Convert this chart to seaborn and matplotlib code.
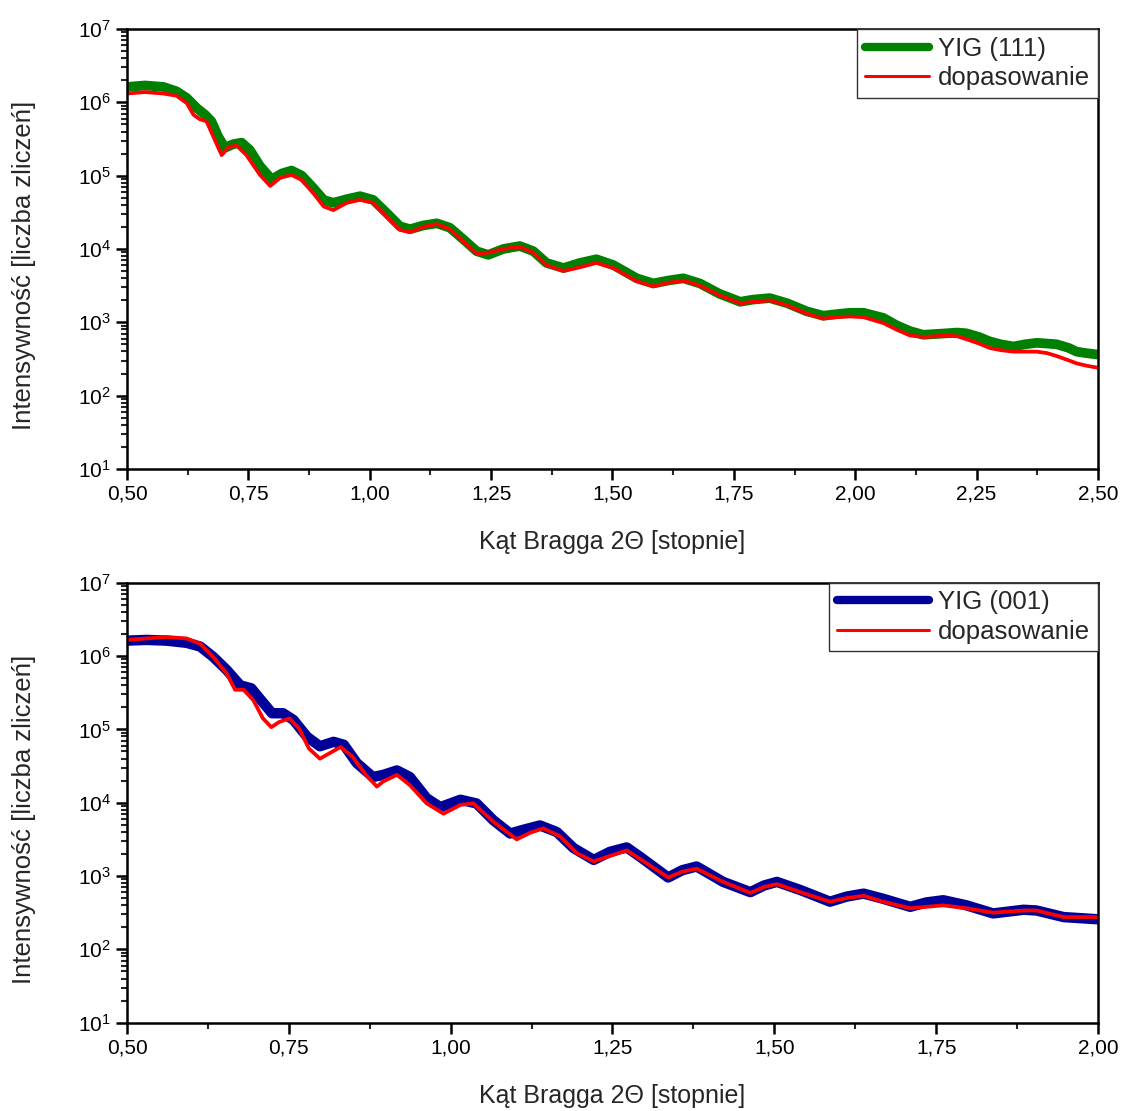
import numpy as np
import matplotlib
matplotlib.use('Agg')
import matplotlib.pyplot as plt
import matplotlib.ticker as mticker
import seaborn as sns

# YIG (111): pomiar - kat 2Theta i log10 intensywnosci
x111_meas = [0.500, 0.537, 0.575, 0.602, 0.623, 0.644, 0.661, 0.674, 0.688, 0.702,
             0.719, 0.736, 0.753, 0.774, 0.798, 0.819, 0.839, 0.860, 0.884, 0.905,
             0.925, 0.953, 0.980, 1.007, 1.035, 1.062, 1.083, 1.110, 1.138, 1.165,
             1.193, 1.220, 1.244, 1.275, 1.309, 1.337, 1.364, 1.399, 1.433, 1.467,
             1.502, 1.550, 1.584, 1.615, 1.646, 1.680, 1.720, 1.763, 1.790, 1.824,
             1.860, 1.900, 1.934, 1.960, 1.989, 2.017, 2.058, 2.085, 2.113, 2.140,
             2.165, 2.188, 2.210, 2.229, 2.255, 2.277, 2.300, 2.326, 2.350, 2.374,
             2.395, 2.415, 2.440, 2.456, 2.475, 2.500]
y111_meas = [6.21, 6.23, 6.21, 6.15, 6.06, 5.92, 5.83, 5.74, 5.53, 5.38,
             5.43, 5.45, 5.35, 5.13, 4.95, 5.03, 5.07, 5.00, 4.83, 4.67,
             4.63, 4.68, 4.72, 4.67, 4.49, 4.31, 4.27, 4.32, 4.35, 4.29,
             4.13, 3.97, 3.92, 4.00, 4.04, 3.97, 3.81, 3.74, 3.81, 3.86,
             3.78, 3.60, 3.53, 3.57, 3.60, 3.53, 3.39, 3.28, 3.31, 3.33,
             3.26, 3.15, 3.09, 3.11, 3.13, 3.13, 3.06, 2.96, 2.88, 2.83,
             2.84, 2.85, 2.86, 2.85, 2.80, 2.74, 2.70, 2.67, 2.70, 2.72,
             2.71, 2.70, 2.65, 2.60, 2.58, 2.56]

# YIG (111): dopasowanie
x111_fit = [0.500, 0.537, 0.575, 0.602, 0.623, 0.637, 0.650, 0.664, 0.678, 0.695,
            0.709, 0.726, 0.746, 0.774, 0.795, 0.815, 0.839, 0.860, 0.884, 0.905,
            0.925, 0.953, 0.980, 1.007, 1.035, 1.062, 1.083, 1.110, 1.138, 1.165,
            1.193, 1.220, 1.244, 1.275, 1.309, 1.337, 1.364, 1.399, 1.433, 1.467,
            1.502, 1.550, 1.584, 1.615, 1.646, 1.680, 1.720, 1.763, 1.790, 1.824,
            1.860, 1.900, 1.934, 1.960, 1.989, 2.017, 2.058, 2.085, 2.113, 2.140,
            2.165, 2.188, 2.210, 2.229, 2.255, 2.277, 2.300, 2.326, 2.350, 2.374,
            2.395, 2.415, 2.440, 2.456, 2.475, 2.500]
y111_fit = [6.12, 6.14, 6.12, 6.09, 5.99, 5.83, 5.77, 5.74, 5.53, 5.28,
            5.39, 5.41, 5.28, 5.01, 4.86, 4.97, 5.01, 4.94, 4.76, 4.58,
            4.53, 4.63, 4.67, 4.63, 4.44, 4.26, 4.23, 4.30, 4.34, 4.27,
            4.10, 3.94, 3.95, 4.00, 4.03, 3.95, 3.78, 3.70, 3.75, 3.81,
            3.74, 3.56, 3.49, 3.54, 3.57, 3.50, 3.37, 3.26, 3.28, 3.30,
            3.23, 3.12, 3.05, 3.07, 3.08, 3.07, 2.99, 2.90, 2.82, 2.80,
            2.81, 2.82, 2.81, 2.77, 2.71, 2.65, 2.62, 2.60, 2.60, 2.60,
            2.58, 2.54, 2.48, 2.44, 2.41, 2.38]

# YIG (001): pomiar
x001_meas = [0.500, 0.530, 0.561, 0.592, 0.613, 0.633, 0.654, 0.675, 0.692, 0.705,
             0.724, 0.741, 0.757, 0.778, 0.798, 0.819, 0.835, 0.855, 0.880, 0.896,
             0.917, 0.937, 0.963, 0.984, 1.015, 1.040, 1.066, 1.092, 1.112, 1.138,
             1.164, 1.190, 1.221, 1.246, 1.272, 1.293, 1.336, 1.358, 1.380, 1.421,
             1.463, 1.484, 1.504, 1.540, 1.586, 1.612, 1.638, 1.668, 1.710, 1.735,
             1.761, 1.797, 1.838, 1.885, 1.905, 1.947, 2.000]
y001_meas = [6.21, 6.22, 6.21, 6.18, 6.13, 5.99, 5.81, 5.60, 5.56, 5.42,
             5.22, 5.22, 5.13, 4.90, 4.77, 4.83, 4.79, 4.54, 4.35, 4.38,
             4.44, 4.35, 4.06, 3.94, 4.04, 3.99, 3.76, 3.58, 3.63, 3.69,
             3.60, 3.38, 3.22, 3.33, 3.39, 3.26, 2.98, 3.08, 3.13, 2.92,
             2.78, 2.87, 2.92, 2.81, 2.65, 2.72, 2.76, 2.69, 2.58, 2.64,
             2.67, 2.60, 2.49, 2.54, 2.53, 2.44, 2.41]

# YIG (001): dopasowanie
x001_fit = [0.500, 0.530, 0.561, 0.592, 0.613, 0.633, 0.654, 0.667, 0.680, 0.695,
            0.710, 0.723, 0.735, 0.751, 0.766, 0.781, 0.798, 0.812, 0.830, 0.848,
            0.869, 0.886, 0.896, 0.917, 0.937, 0.963, 0.989, 1.015, 1.035, 1.066,
            1.102, 1.123, 1.143, 1.169, 1.195, 1.221, 1.252, 1.272, 1.293, 1.336,
            1.358, 1.380, 1.421, 1.463, 1.484, 1.504, 1.540, 1.586, 1.612, 1.638,
            1.668, 1.710, 1.735, 1.761, 1.797, 1.838, 1.885, 1.905, 1.947, 2.000]
y001_fit = [6.22, 6.24, 6.26, 6.24, 6.17, 5.99, 5.76, 5.54, 5.54, 5.40,
            5.15, 5.03, 5.10, 5.15, 5.01, 4.74, 4.60, 4.67, 4.76, 4.63,
            4.38, 4.22, 4.29, 4.38, 4.24, 3.99, 3.85, 3.97, 3.99, 3.74,
            3.50, 3.59, 3.65, 3.54, 3.31, 3.20, 3.29, 3.35, 3.23, 2.98,
            3.06, 3.10, 2.92, 2.77, 2.85, 2.89, 2.78, 2.65, 2.70, 2.73,
            2.65, 2.56, 2.58, 2.60, 2.56, 2.50, 2.53, 2.53, 2.44, 2.44]

sns.set_style('ticks')
plt.rcParams['font.family'] = ['Liberation Sans', 'DejaVu Sans']
plt.rcParams['mathtext.fontset'] = 'custom'
plt.rcParams['mathtext.rm'] = 'Liberation Sans'
plt.rcParams['mathtext.default'] = 'regular'

fig = plt.figure(figsize=(11.23, 11.11), dpi=100)
ax1 = fig.add_axes([0.1131, 0.5779, 0.8646, 0.3960])
ax2 = fig.add_axes([0.1131, 0.0795, 0.8646, 0.3960])


def draw_panel(ax, xm, ym, xf, yf, color, lw, label, xmax, handlelen):
    sns.lineplot(x=xm, y=10 ** np.array(ym), ax=ax, color=color, linewidth=lw,
                 estimator=None, sort=False, label=label,
                 solid_capstyle='round', solid_joinstyle='round')
    sns.lineplot(x=xf, y=10 ** np.array(yf), ax=ax, color='#ff0000', linewidth=2.7,
                 estimator=None, sort=False, label='dopasowanie',
                 solid_joinstyle='round')
    ax.set_yscale('log')
    ax.set_ylim(10, 1e7)
    ax.set_xlim(0.5, xmax)
    ax.xaxis.set_major_locator(mticker.MultipleLocator(0.25))
    ax.xaxis.set_minor_locator(mticker.MultipleLocator(0.125))
    ax.xaxis.set_major_formatter(mticker.FuncFormatter(lambda v, p: f"{v:.2f}".replace('.', ',')))
    ax.yaxis.set_major_locator(mticker.LogLocator(base=10, numticks=10))
    ax.yaxis.set_minor_locator(mticker.LogLocator(base=10, subs=np.arange(2, 10), numticks=20))
    ax.yaxis.set_major_formatter(mticker.FuncFormatter(lambda v, p: r'$10^{%d}$' % round(np.log10(v))))
    ax.yaxis.set_minor_formatter(mticker.NullFormatter())
    ax.tick_params(which='major', direction='out', length=8, width=1.8, labelsize=15, colors='black')
    ax.tick_params(which='minor', direction='out', length=4.5, width=1.5)
    ax.tick_params(top=False, right=False)
    for s in ax.spines.values():
        s.set_visible(True)
        s.set_color('black')
        s.set_linewidth(1.8)
    ax.set_xlabel('Kąt Bragga 2Θ [stopnie]', fontsize=18, labelpad=19)
    ax.set_ylabel('Intensywność [liczba zliczeń]', fontsize=18.5)
    ax.yaxis.set_label_coords(-0.094, 0.463)
    leg = ax.legend(loc='upper right', borderaxespad=0, fancybox=False, framealpha=1,
                    edgecolor='#333333', fontsize=18.5, handlelength=handlelen,
                    borderpad=0.3, labelspacing=0.2, handletextpad=0.35)
    leg.get_frame().set_linewidth(1.0)
    leg.legend_handles[0].set_linewidth(6)
    leg.legend_handles[1].set_linewidth(2.2)


draw_panel(ax1, x111_meas, y111_meas, x111_fit, y111_fit, '#008000', 7.0, 'YIG (111)', 2.5, 2.5)
draw_panel(ax2, x001_meas, y001_meas, x001_fit, y001_fit, '#000099', 7.5, 'YIG (001)', 2.0, 3.6)

fig.savefig('out.png', dpi=100)
